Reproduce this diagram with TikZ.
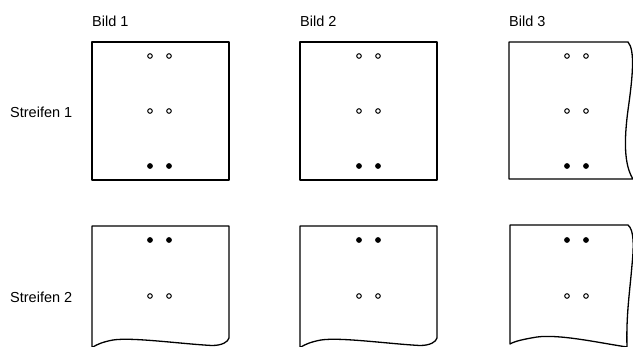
\documentclass[tikz,border=0pt]{standalone}
\usepackage{fontspec}
\setmainfont{Liberation Sans}
\begin{document}
\begin{tikzpicture}[x=1pt,y=-1pt,line cap=round,line join=round]
  \tikzset{
    frame/.style={line width=1.3pt},
    holeopen/.style={draw,line width=1pt,fill=white},
    holefull/.style={fill=black},
    caption/.style={font=\fontsize{14.5}{17}\selectfont,inner sep=0pt,anchor=west},
  }
  \useasboundingbox (0,0) rectangle (633,347);
  \def\rA{2.3pt}
  \def\rB{2.9pt}

  % Headings
  \node[caption] (bild1) at (92,21) {Bild 1};
  \node[caption] (bild2) at (300,21) {Bild 2};
  \node[caption] (bild3) at (509,21) {Bild 3};
  \node[caption] (streifen1) at (10,112) {Streifen 1};
  \node[caption] (streifen2) at (10,297) {Streifen 2};

  % Streifen 1: frames
  \foreach \x in {92,300}{
    \draw[frame] (\x,42) rectangle (\x+137,180);
  }
  \draw[frame] (628,42) .. controls (635,50) and (633,75) .. (628,110)
    .. controls (624,140) and (624,165) .. (633,179) -- (509,179) -- (509,42) -- cycle;

  % Streifen 2: frames with torn edge
  \foreach \x in {92,300}{
    \draw[frame] (\x,347) -- (\x,226) -- (\x+137,226) -- (\x+137,338)
      .. controls (\x+136,342) and (\x+130,345.5) .. (\x+120,345.5)
      .. controls (\x+90,344) and (\x+40,337) .. (\x+21,340)
      .. controls (\x+10,342) and (\x+4,345) .. (\x+1,347);
  }
  \draw[frame] (510,344) -- (510,225) -- (628,225)
    .. controls (634,230) and (634,245) .. (632,265)
    .. controls (630,290) and (626,315) .. (627,347)
    .. controls (600,343) and (560,334) .. (537,337)
    .. controls (525,339) and (515,341) .. (510,344);

  % Holes
  \foreach \x in {150,359,567}{
    \foreach \dx in {0,19}{
      \draw[holeopen] (\x+\dx,56) circle[radius=\rA];
      \draw[holeopen] (\x+\dx,111) circle[radius=\rA];
      \fill[holefull] (\x+\dx,166) circle[radius=\rB];
      \fill[holefull] (\x+\dx,240) circle[radius=\rB];
      \draw[holeopen] (\x+\dx,296) circle[radius=\rA];
    }
  }
\end{tikzpicture}
\end{document}
